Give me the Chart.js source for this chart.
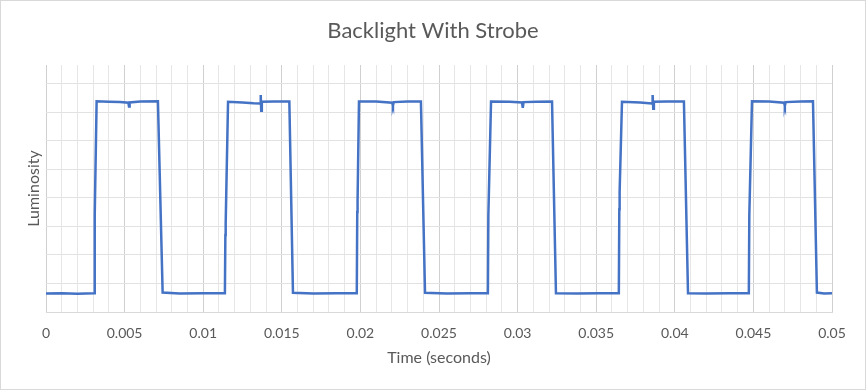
<!DOCTYPE html>
<html>
<head>
<meta charset="utf-8">
<script src="https://cdn.jsdelivr.net/npm/chart.js@4/dist/chart.umd.min.js"></script>
<style>
  html, body { margin: 0; padding: 0; background: #fff; }
  #wrap { width: 864px; height: 388px; border: 1px solid #d9d9d9; position: relative; }
</style>
</head>
<body>
<div id="wrap"><canvas id="strobeChart" width="864" height="388"></canvas></div>
<script>
var timeValues = [
  0, 0.0010, 0.0020, 0.00306,
  0.00310, 0.00322, 0.0040, 0.0047, 0.00524, 0.00528, 0.00532, 0.0060, 0.00712,
  0.00742, 0.0085, 0.0100, 0.01138,
  0.01141, 0.01143, 0.01158, 0.0125, 0.0132, 0.01362, 0.01366, 0.01369, 0.01373, 0.0145, 0.01548,
  0.01571, 0.0170, 0.0185, 0.01977,
  0.01980, 0.01982, 0.01991, 0.0210, 0.02202, 0.02207, 0.02212, 0.0230, 0.02385,
  0.02411, 0.0255, 0.0270, 0.02811,
  0.02814, 0.02831, 0.0295, 0.03028, 0.03033, 0.03038, 0.0312, 0.03219,
  0.03244, 0.0338, 0.0352, 0.03644,
  0.03647, 0.03649, 0.03664, 0.0378, 0.03855, 0.03859, 0.03863, 0.03867, 0.0395, 0.04058,
  0.04084, 0.0420, 0.0435, 0.04471,
  0.04474, 0.04491, 0.0460, 0.04695, 0.04700, 0.04705, 0.0480, 0.04879,
  0.04904, 0.0495, 0.0500
];
var luminosityValues = [
  0.65, 0.66, 0.64, 0.66,
  3.40, 7.38, 7.36, 7.35, 7.33, 7.20, 7.34, 7.37, 7.38,
  0.68, 0.65, 0.66, 0.66,
  2.70, 3.10, 7.36, 7.34, 7.31, 7.30, 7.60, 7.05, 7.36, 7.37, 7.37,
  0.67, 0.65, 0.66, 0.66,
  3.50, 3.90, 7.37, 7.37, 7.33, 7.23, 7.35, 7.37, 7.37,
  0.67, 0.65, 0.66, 0.66,
  3.40, 7.37, 7.36, 7.34, 7.15, 7.35, 7.36, 7.37,
  0.66, 0.65, 0.66, 0.66,
  3.60, 4.20, 7.36, 7.34, 7.30, 7.60, 7.12, 7.36, 7.37, 7.37,
  0.66, 0.65, 0.66, 0.66,
  3.40, 7.38, 7.37, 7.33, 7.22, 7.35, 7.37, 7.38,
  0.68, 0.65, 0.66
];
var xTickLabels = ['0', '0.005', '0.01', '0.015', '0.02', '0.025', '0.03', '0.035', '0.04', '0.045', '0.05'];

var textColor = '#595959';
var fontFamily = 'Lato, "Open Sans", sans-serif';

var points = [];
for (var i = 0; i < timeValues.length; i++) {
  points.push({ x: timeValues[i], y: luminosityValues[i] });
}

var ctx = document.getElementById('strobeChart').getContext('2d');
new Chart(ctx, {
  type: 'line',
  data: {
    datasets: [{
      data: points,
      borderColor: '#4472C4',
      borderWidth: 2.5,
      pointRadius: 0,
      tension: 0,
      fill: false
    }]
  },
  options: {
    responsive: false,
    animation: false,
    layout: { padding: 0 },
    plugins: {
      legend: { display: false },
      tooltip: { enabled: false },
      title: {
        display: true,
        text: 'Backlight With Strobe',
        color: textColor,
        font: { family: fontFamily, size: 22, weight: 'normal' },
        padding: { top: 17, bottom: 20.6 }
      }
    },
    scales: {
      x: {
        type: 'linear',
        min: 0,
        max: 0.05,
        ticks: {
          stepSize: 0.001,
          maxTicksLimit: 100,
          autoSkip: false,
          maxRotation: 0,
          minRotation: 0,
          padding: 13,
          color: textColor,
          font: { family: fontFamily, size: 14 },
          callback: function (value, index) {
            return index % 5 === 0 ? xTickLabels[index / 5] : '';
          }
        },
        grid: {
          drawTicks: false,
          color: function (c) {
            var m = Math.round(c.tick.value * 1000);
            return m % 5 === 0 ? '#d0d0d0' : '#e6e6e6';
          }
        },
        border: { color: '#d9d9d9' },
        title: {
          display: true,
          text: 'Time (seconds)',
          color: textColor,
          font: { family: fontFamily, size: 16 },
          padding: { top: 0, bottom: 21.4 }
        },
        afterFit: function (scale) { scale.height = 77; }
      },
      y: {
        min: 0,
        max: 8.65,
        ticks: { display: false, stepSize: 1 },
        grid: { drawTicks: false, color: '#e2e2e2' },
        border: { display: false },
        title: {
          display: true,
          text: 'Luminosity',
          color: textColor,
          font: { family: fontFamily, size: 16 },
          padding: { top: 23.4, bottom: 0 }
        },
        afterBuildTicks: function (scale) {
          scale.ticks = scale.ticks.filter(function (t) { return Number.isInteger(t.value); });
        },
        afterFit: function (scale) { scale.width = 45; }
      },
      // empty right-hand axis, only to keep the right margin so the title stays centred
      yRight: {
        position: 'right',
        min: 0,
        max: 8.65,
        ticks: { display: false },
        grid: { display: false, drawTicks: false },
        border: { display: false },
        afterFit: function (scale) { scale.width = 33; }
      }
    }
  }
});
</script>
</body>
</html>
